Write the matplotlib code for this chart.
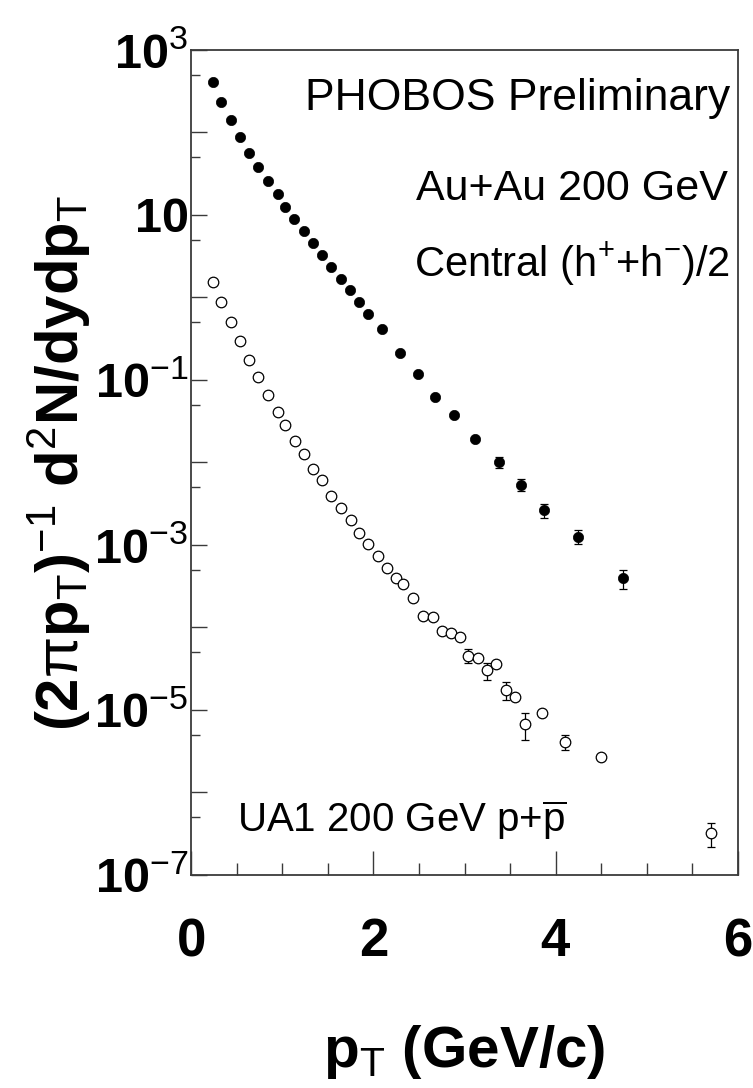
import numpy as np
import matplotlib
matplotlib.use("Agg")
import matplotlib.pyplot as plt
from matplotlib.ticker import FixedLocator, FuncFormatter

plt.rcParams["font.family"] = ["Liberation Sans", "DejaVu Sans"]
plt.rcParams["mathtext.fontset"] = "custom"
plt.rcParams["mathtext.rm"] = "Liberation Sans"
plt.rcParams["mathtext.bf"] = "Liberation Sans:bold"
plt.rcParams["mathtext.it"] = "Liberation Sans:italic"
plt.rcParams["mathtext.sf"] = "Liberation Sans"
plt.rcParams["mathtext.default"] = "rm"

# Au+Au 200 GeV, central, (h+ + h-)/2
pt_auau = [0.24, 0.33, 0.44, 0.54, 0.64, 0.74, 0.84, 0.95, 1.03, 1.13,
           1.24, 1.34, 1.44, 1.54, 1.64, 1.74, 1.84, 1.94, 2.09, 2.29,
           2.49, 2.68, 2.89, 3.12, 3.38, 3.62, 3.87, 4.25, 4.74]
yield_auau = [413, 236, 141, 89, 56.9, 38.2, 26.1, 18.1, 12.5, 8.87,
              6.34, 4.54, 3.25, 2.32, 1.66, 1.23, 0.881, 0.631, 0.415, 0.214,
              0.119, 0.0628, 0.0373, 0.0191, 0.0101, 0.00538, 0.00265, 0.00126, 3.95e-4]
err_auau = [0, 0, 0, 0, 0, 0, 0, 0, 0, 0,
            0, 0, 0, 0, 0, 0, 0, 0, 0, 0,
            0, 0, 0, 0, 0.0016, 0.00091, 0.0005, 0.00024, 1.0e-4]

# UA1 200 GeV p+pbar
pt_ua1 = [0.24, 0.33, 0.44, 0.54, 0.64, 0.74, 0.84, 0.95, 1.03, 1.14,
          1.24, 1.34, 1.44, 1.54, 1.65, 1.75, 1.84, 1.94, 2.05, 2.15,
          2.25, 2.33, 2.44, 2.54, 2.65, 2.75, 2.85, 2.95, 3.04, 3.15,
          3.25, 3.35, 3.45, 3.55, 3.66, 3.85, 4.10, 4.50, 5.70]
yield_ua1 = [1.556, 0.875, 0.505, 0.297, 0.175, 0.1087, 0.0664, 0.0413, 0.0285, 0.01824,
             0.01257, 0.00834, 0.00614, 0.00393, 0.00283, 0.00203, 0.00141, 0.00103, 7.41e-4, 5.33e-4,
             3.98e-4, 3.41e-4, 2.25e-4, 1.39e-4, 1.33e-4, 9.08e-5, 8.65e-5, 7.6e-5, 4.55e-5, 4.24e-5,
             3.01e-5, 3.63e-5, 1.746e-5, 1.44e-5, 6.77e-6, 9.27e-6, 4.13e-6, 2.67e-6, 3.2e-7]
err_ua1 = [0, 0, 0, 0, 0, 0, 0, 0, 0, 0,
           0, 0, 0, 0, 0, 0, 0, 0, 0, 0,
           0, 0, 0, 0, 0, 0, 0, 0, 0.87e-5, 0,
           0.67e-5, 0, 4.3e-6, 0, 2.4e-6, 0, 0.86e-6, 0, 1.03e-7]

x_ticks = [0, 2, 4, 6]
y_decades = list(range(-7, 4))

fig = plt.figure(figsize=(7.53, 10.88), dpi=100)
ax = fig.add_axes([0.2537, 0.1958, 0.7264, 0.7583])

frame = "#3a3a3a"
for s in ax.spines.values():
    s.set_color(frame)
    s.set_linewidth(1.3)

ax.set_xlim(0, 6)
ax.set_yscale("log")
ax.set_ylim(1e-7, 1e3)

# error bars first, markers on top
ax.errorbar(pt_ua1, yield_ua1, yerr=err_ua1, fmt="none", ecolor="black",
            elinewidth=0.9, capsize=3.0, capthick=0.9, zorder=2)
ax.errorbar(pt_auau, yield_auau, yerr=err_auau, fmt="none", ecolor="black",
            elinewidth=0.9, capsize=3.0, capthick=0.9, zorder=2)
ax.plot(pt_ua1, yield_ua1, linestyle="none", marker="o", markersize=7.6,
        markerfacecolor="white", markeredgecolor="black", markeredgewidth=0.9, zorder=3)
ax.plot(pt_auau, yield_auau, linestyle="none", marker="o", markersize=7.4,
        markerfacecolor="black", markeredgecolor="black", markeredgewidth=0.5, zorder=3)

# x axis ticks
ax.xaxis.set_major_locator(FixedLocator(x_ticks))
ax.xaxis.set_minor_locator(FixedLocator(np.arange(0, 6.01, 0.5)))
ax.xaxis.set_major_formatter(FuncFormatter(lambda v, p: r"$\mathbf{%d}$" % round(v)))

# y axis ticks: every decade, labels on odd powers, minor at 5 x 10^n
def ylab(v, p):
    e = int(round(np.log10(v)))
    if e % 2 == 0:
        return ""
    if e == 1:
        return r"$\mathbf{10}$"
    return r"$\mathbf{10}^{\mathrm{%d}}$" % e

ax.yaxis.set_major_locator(FixedLocator([10.0 ** e for e in y_decades]))
ax.yaxis.set_minor_locator(FixedLocator([5 * 10.0 ** e for e in y_decades[:-1]]))
ax.yaxis.set_major_formatter(FuncFormatter(ylab))
ax.yaxis.set_minor_formatter(FuncFormatter(lambda v, p: ""))

ax.tick_params(axis="x", which="major", direction="in", length=17, width=1.0,
               color=frame, labelsize=38, pad=30, top=False)
ax.tick_params(axis="x", which="minor", direction="in", length=9, width=1.0,
               color=frame, top=False)
ax.tick_params(axis="y", which="major", direction="in", length=11.5, width=1.0,
               color=frame, labelsize=35, pad=2, right=False)
ax.tick_params(axis="y", which="minor", direction="in", length=6.5, width=1.0,
               color=frame, right=False)

ax.set_xlabel(r"$\mathbf{p}_{\mathrm{T}}$ (GeV/c)", fontsize=42, fontweight="bold")
ax.xaxis.set_label_coords(0.5, -0.18)
ax.set_ylabel(r"$\mathbf{(2}\mathrm{\pi}\mathbf{p}_{\mathrm{T}}\mathbf{)}^{\mathrm{-1}}\ "
              r"\mathbf{d}^{\mathrm{2}}\mathbf{N/dydp}_{\mathrm{T}}$", fontsize=43)
ax.yaxis.set_label_coords(-0.18, 0.5)

ax.text(0.9854, 0.9273, "PHOBOS Preliminary", transform=ax.transAxes,
        ha="right", va="baseline", fontsize=32)
ax.text(0.9817, 0.8182, "Au+Au 200 GeV", transform=ax.transAxes,
        ha="right", va="baseline", fontsize=31)
ax.text(0.9854, 0.7248, r"Central (h$^{+}$+h$^{-}$)/2", transform=ax.transAxes,
        ha="right", va="baseline", fontsize=30)
ax.text(0.0841, 0.0521, r"UA1 200 GeV p+$\overline{\mathrm{p}}$", transform=ax.transAxes,
        ha="left", va="baseline", fontsize=29)

fig.savefig("out.png", dpi=100)
